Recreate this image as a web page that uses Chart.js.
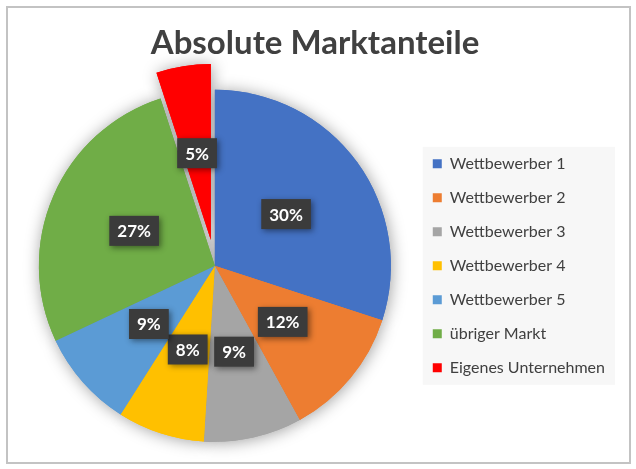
<!DOCTYPE html>
<html><head><meta charset="utf-8">
<script src="https://cdn.jsdelivr.net/npm/chart.js@4.4.1/dist/chart.umd.min.js"></script>
<style>
html,body{margin:0;padding:0;background:#fff;}
#frame{position:absolute;left:6px;top:6px;width:621px;height:454px;border:2px solid #c3c3c3;}
#wrap{position:absolute;left:0;top:0;width:636px;height:469px;}
</style></head><body>
<div id="frame"></div>
<div id="wrap"><canvas id="c" width="636" height="469"></canvas></div>
<script>
const categories = ['Wettbewerber 1','Wettbewerber 2','Wettbewerber 3','Wettbewerber 4','Wettbewerber 5','übriger Markt','Eigenes Unternehmen'];
const shares = [30, 12, 9, 8, 9, 27, 5];
const sliceColors = ['#4472c4','#ed7d31','#a5a5a5','#ffc000','#5b9bd5','#70ad47','#ff0000'];
const explodedSlices = ['Eigenes Unternehmen'];
const chartTitle = 'Absolute Marktanteile';

const FONT = 'Lato';
const EXPLODE = 26;

function explodeShift(arc, i, chart) {
  const lbl = chart.data.labels[i];
  if (!explodedSlices.includes(lbl)) return {dx:0, dy:0};
  const mid = (arc.startAngle + arc.endAngle) / 2;
  return {dx: Math.cos(mid) * EXPLODE, dy: Math.sin(mid) * EXPLODE};
}

const explodePlugin = {
  id: 'explode',
  afterDatasetUpdate(chart) {
    const meta = chart.getDatasetMeta(0);
    meta.data.forEach((arc, i) => {
      if (arc._wrapped) return;
      const orig = arc.draw;
      arc.draw = function(ctx) {
        const s = explodeShift(this, i, chart);
        ctx.save();
        ctx.translate(s.dx, s.dy);
        orig.call(this, ctx);
        ctx.restore();
      };
      arc._wrapped = true;
    });
  },
  beforeDatasetsDraw(chart) {
    const ctx = chart.ctx;
    const meta = chart.getDatasetMeta(0);
    ctx.save();
    ctx.shadowColor = 'rgba(0,0,0,0.38)';
    ctx.shadowBlur = 16;
    ctx.shadowOffsetX = 1;
    ctx.shadowOffsetY = 1;
    meta.data.forEach(a => a.draw(ctx));
    ctx.restore();
  }
};

const legendBgPlugin = {
  id: 'legendBg',
  beforeDraw(chart) {
    const lg = chart.legend;
    if (!lg || !lg.legendHitBoxes || !lg.legendHitBoxes.length) return;
    const hb = lg.legendHitBoxes;
    let l = Infinity, r = -Infinity, t = Infinity, b = -Infinity;
    hb.forEach(h => { l = Math.min(l, h.left); r = Math.max(r, h.left + h.width); t = Math.min(t, h.top); b = Math.max(b, h.top + h.height); });
    const ctx = chart.ctx;
    ctx.save();
    ctx.fillStyle = '#f7f7f7';
    ctx.fillRect(l - 10, t - 9, (r - l) + 20, (b - t) + 18);
    ctx.restore();
  }
};

const labelPlugin = {
  id: 'sliceLabels',
  afterDatasetsDraw(chart) {
    const ctx = chart.ctx;
    const meta = chart.getDatasetMeta(0);
    const data = chart.data.datasets[0].data;
    const total = data.reduce((a, b) => a + b, 0);
    ctx.save();
    ctx.font = 'bold 17px ' + FONT;
    ctx.textAlign = 'center';
    ctx.textBaseline = 'middle';
    meta.data.forEach((arc, i) => {
      const s = explodeShift(arc, i, chart);
      const mid = (arc.startAngle + arc.endAngle) / 2;
      const rr = arc.outerRadius / 2;
      const x = arc.x + Math.cos(mid) * rr + s.dx;
      const y = arc.y + Math.sin(mid) * rr + s.dy;
      const txt = Math.round(data[i] / total * 100) + '%';
      const w = ctx.measureText(txt).width + 16;
      const h = 30;
      ctx.save();
      ctx.shadowColor = 'rgba(0,0,0,0.45)';
      ctx.shadowBlur = 6;
      ctx.shadowOffsetX = 2;
      ctx.shadowOffsetY = 2;
      ctx.fillStyle = '#3b3b3b';
      ctx.fillRect(x - w / 2, y - h / 2, w, h);
      ctx.restore();
      ctx.fillStyle = '#ffffff';
      ctx.fillText(txt, x, y + 1);
    });
    ctx.restore();
  }
};

new Chart(document.getElementById('c'), {
  type: 'pie',
  data: {
    labels: categories,
    datasets: [{
      data: shares,
      backgroundColor: sliceColors,
      borderWidth: 0
    }]
  },
  options: {
    responsive: false,
    animation: false,
    radius: 176,
    layout: { padding: { left: 15, right: 21, top: 10, bottom: 7 } },
    plugins: {
      title: {
        display: true,
        text: chartTitle,
        color: '#404040',
        font: { family: FONT, size: 33, weight: 'bold' },
        padding: { top: 14, bottom: 6 }
      },
      legend: {
        position: 'right',
        fullSize: false,
        labels: {
          boxWidth: 9,
          boxHeight: 9,
          padding: 18,
          color: '#404040',
          font: { family: FONT, size: 16 }
        }
      },
      tooltip: { enabled: false }
    }
  },
  plugins: [explodePlugin, legendBgPlugin, labelPlugin]
});
</script>
</body></html>
